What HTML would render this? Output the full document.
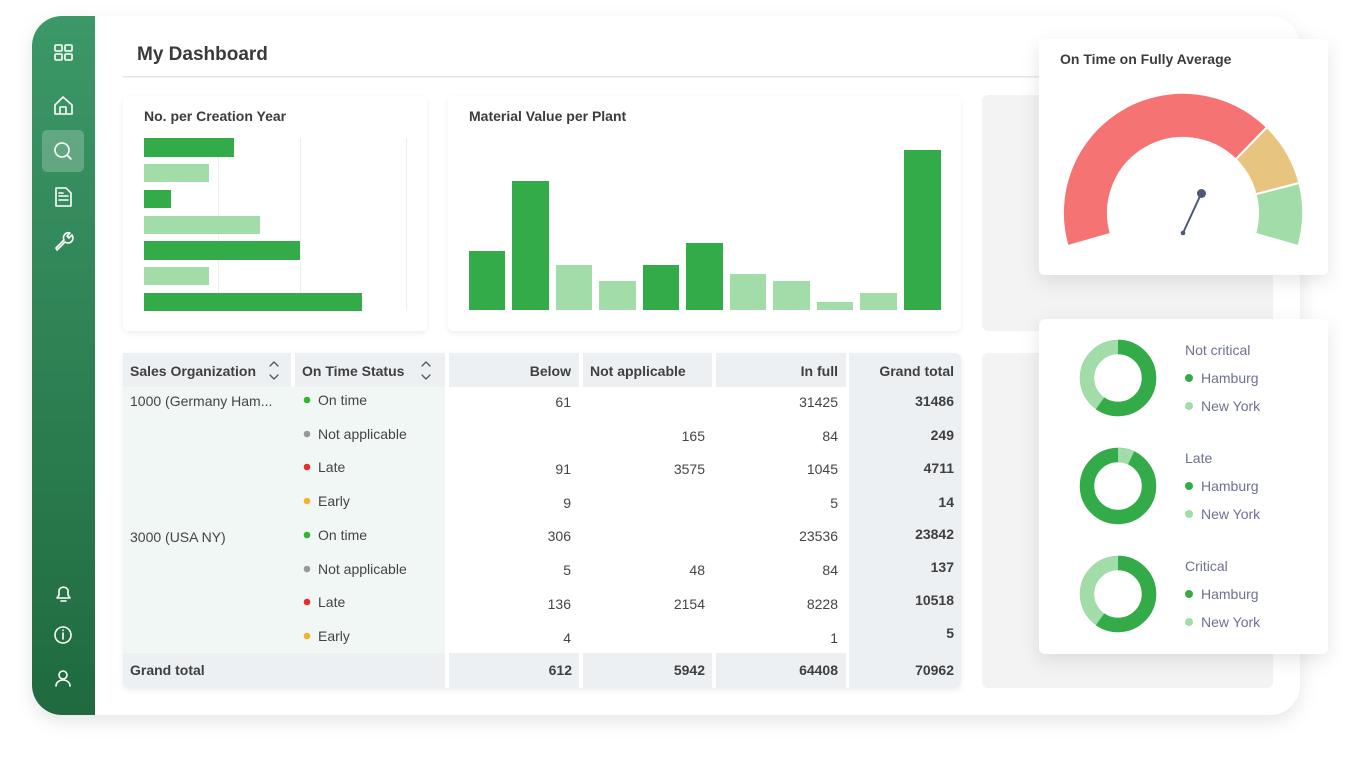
<!DOCTYPE html>
<html><head><meta charset="utf-8"><style>
html,body{margin:0;padding:0;background:#fff;width:1361px;height:764px;overflow:hidden}
svg{display:block}
text{font-family:"Liberation Sans",sans-serif}
</style></head><body>
<svg width="1361" height="764" viewBox="0 0 1361 764" xmlns="http://www.w3.org/2000/svg">
<defs>
<linearGradient id="sb" x1="0" y1="0" x2="0" y2="1"><stop offset="0" stop-color="#3c9868"/><stop offset="1" stop-color="#1f6a3f"/></linearGradient>
<filter id="sh" x="-20%" y="-20%" width="140%" height="150%"><feDropShadow dx="0" dy="6" stdDeviation="9" flood-color="#000" flood-opacity="0.10"/></filter>
<filter id="sh2" x="-10%" y="-10%" width="120%" height="130%"><feDropShadow dx="0" dy="2" stdDeviation="3" flood-color="#000" flood-opacity="0.07"/></filter>
</defs>
<rect width="1361" height="764" fill="#fff"/>
<!-- main panel -->
<rect x="32" y="16" width="1268" height="699" rx="30" fill="#fff" filter="url(#sh)"/>
<path d="M62 16 H95 V715 H62 A30 30 0 0 1 32 685 V46 A30 30 0 0 1 62 16 Z" fill="url(#sb)"/>
<rect x="42" y="130" width="42" height="42" rx="5" fill="#ffffff" opacity="0.22"/>
<g fill="none" stroke="#fff" stroke-width="1.6" stroke-linecap="round" stroke-linejoin="round">
<rect x="55" y="45" width="7" height="6" rx="1"/><rect x="65" y="45" width="7" height="6" rx="1"/><rect x="55" y="54" width="7" height="6" rx="1"/><rect x="65" y="54" width="7" height="6" rx="1"/>
<path d="M55 105 L63 97 L72 105 V114 H55 Z M60 114 V107 H66 V114"/>
<circle cx="62" cy="150" r="7"/><path d="M67 155 L71 159"/>
<path d="M56 188 H66 L71 193 V206 H56 Z M59 196 H68 M59 200 H68 M59 193 H63"/>
<path d="M56 248 L64 240 A5 5 0 0 1 70 233 L67 236 L69 238 L72 235 A5 5 0 0 1 65 242 L57 250 Z"/>
<path d="M57 598 H70 L68 595 V590 A5 5 0 0 0 59 590 V595 Z M61 601 H66"/>
<circle cx="63" cy="635" r="8"/><path d="M63 633 V639 M63 630 V630.5"/>
<circle cx="63" cy="675" r="4"/><path d="M56 686 A7 6 0 0 1 70 686"/>
</g>
<!-- header -->
<text x="137" y="60" font-size="19" font-weight="bold" fill="#3a3a3a">My Dashboard</text>
<rect x="123" y="76" width="930" height="1.5" fill="#e6e6e6"/>
<!-- bar card 1 -->
<rect x="123" y="96" width="304" height="235" rx="6" fill="#fff" filter="url(#sh2)"/>
<text x="144" y="121" font-size="14" font-weight="bold" fill="#3c3c3c">No. per Creation Year</text>
<g fill="#eee"><rect x="218" y="138" width="1" height="173"/><rect x="300" y="138" width="1" height="173"/><rect x="406" y="138" width="1" height="173"/></g>
<g>
<rect x="144" y="138" width="90" height="19" fill="#33ab48"/>
<rect x="144" y="164" width="65" height="18" fill="#a1dca9"/>
<rect x="144" y="190" width="27" height="18" fill="#33ab48"/>
<rect x="144" y="216" width="116" height="18" fill="#a1dca9"/>
<rect x="144" y="241" width="156" height="19" fill="#33ab48"/>
<rect x="144" y="267" width="65" height="18" fill="#a1dca9"/>
<rect x="144" y="293" width="218" height="18" fill="#33ab48"/>
</g>
<!-- bar card 2 -->
<rect x="448" y="96" width="513" height="235" rx="6" fill="#fff" filter="url(#sh2)"/>
<text x="469" y="121" font-size="14" font-weight="bold" fill="#3c3c3c">Material Value per Plant</text>
<g>
<rect x="469" y="251" width="36" height="59" fill="#33ab48"/>
<rect x="512" y="181" width="37" height="129" fill="#33ab48"/>
<rect x="556" y="265" width="36" height="45" fill="#a1dca9"/>
<rect x="599" y="281" width="37" height="29" fill="#a1dca9"/>
<rect x="643" y="265" width="36" height="45" fill="#33ab48"/>
<rect x="686" y="243" width="37" height="67" fill="#33ab48"/>
<rect x="730" y="274" width="36" height="36" fill="#a1dca9"/>
<rect x="773" y="281" width="37" height="29" fill="#a1dca9"/>
<rect x="817" y="302" width="36" height="8" fill="#a1dca9"/>
<rect x="860" y="293" width="37" height="17" fill="#a1dca9"/>
<rect x="904" y="150" width="37" height="160" fill="#33ab48"/>
</g>
<!-- placeholders -->
<rect x="982" y="95" width="291" height="236" rx="6" fill="#f3f3f3"/>
<rect x="982" y="353" width="291" height="335" rx="6" fill="#f3f3f3"/>
<!-- table -->
<rect x="123" y="353" width="838" height="335" rx="6" fill="#fff" filter="url(#sh2)"/>
<rect x="123" y="387" width="322" height="266" fill="#f1f7f4"/>
<rect x="123" y="353" width="168" height="34" fill="#edf0f3"/>
<rect x="295" y="353" width="150" height="34" fill="#edf0f3"/>
<rect x="449" y="353" width="130" height="34" fill="#edf0f3"/>
<rect x="583" y="353" width="129" height="34" fill="#edf0f3"/>
<rect x="716" y="353" width="130" height="34" fill="#edf0f3"/>
<path d="M849 353 H955 A6 6 0 0 1 961 359 V682 A6 6 0 0 1 955 688 H849 Z" fill="#edf0f3"/>
<path d="M123 653 H445 V688 H129 A6 6 0 0 1 123 682 Z" fill="#edf0f3"/>
<rect x="449" y="653" width="130" height="35" fill="#edf0f3"/>
<rect x="583" y="653" width="129" height="35" fill="#edf0f3"/>
<rect x="716" y="653" width="130" height="35" fill="#edf0f3"/>
<g font-size="14" font-weight="bold" fill="#3f3f3f">
<text x="130" y="376">Sales Organization</text>
<text x="302" y="376">On Time Status</text>
<text x="571" y="376" text-anchor="end">Below</text>
<text x="590" y="376">Not applicable</text>
<text x="838" y="376" text-anchor="end">In full</text>
<text x="954" y="376" text-anchor="end">Grand total</text>
<text x="130" y="675">Grand total</text>
<text x="572" y="675" text-anchor="end">612</text>
<text x="705" y="675" text-anchor="end">5942</text>
<text x="838" y="675" text-anchor="end">64408</text>
<text x="954" y="675" text-anchor="end">70962</text>
</g>
<g fill="none" stroke="#555" stroke-width="1.3" stroke-linecap="round" stroke-linejoin="round">
<path d="M270 366 L274 362 L278 366 M270 375 L274 379 L278 375"/>
<path d="M422 366 L426 362 L430 366 M422 375 L426 379 L430 375"/>
</g>
<g font-size="14" fill="#444">
<text x="130" y="406">1000 (Germany Ham...</text>
<text x="130" y="542">3000 (USA NY)</text>
<text x="318" y="405">On time</text><text x="318" y="439">Not applicable</text><text x="318" y="472">Late</text><text x="318" y="506">Early</text>
<text x="318" y="540">On time</text><text x="318" y="574">Not applicable</text><text x="318" y="607">Late</text><text x="318" y="641">Early</text>
</g>
<g>
<circle cx="307" cy="400" r="3.3" fill="#2fb52f"/><circle cx="307" cy="434" r="3.3" fill="#999"/><circle cx="307" cy="467" r="3.3" fill="#ee2a2a"/><circle cx="307" cy="501" r="3.3" fill="#f0b22f"/>
<circle cx="307" cy="535" r="3.3" fill="#2fb52f"/><circle cx="307" cy="569" r="3.3" fill="#999"/><circle cx="307" cy="602" r="3.3" fill="#ee2a2a"/><circle cx="307" cy="636" r="3.3" fill="#f0b22f"/>
</g>
<g font-size="14" fill="#444" text-anchor="end">
<text x="571" y="407">61</text><text x="571" y="474">91</text><text x="571" y="508">9</text><text x="571" y="541">306</text><text x="571" y="575">5</text><text x="571" y="609">136</text><text x="571" y="643">4</text>
<text x="705" y="441">165</text><text x="705" y="474">3575</text><text x="705" y="575">48</text><text x="705" y="609">2154</text>
<text x="838" y="407">31425</text><text x="838" y="441">84</text><text x="838" y="474">1045</text><text x="838" y="508">5</text><text x="838" y="541">23536</text><text x="838" y="575">84</text><text x="838" y="609">8228</text><text x="838" y="643">1</text>
</g>
<g font-size="14" font-weight="bold" fill="#3f3f3f" text-anchor="end">
<text x="954" y="406">31486</text><text x="954" y="440">249</text><text x="954" y="473">4711</text><text x="954" y="507">14</text><text x="954" y="539">23842</text><text x="954" y="572">137</text><text x="954" y="605">10518</text><text x="954" y="638">5</text>
</g>
<!-- gauge card -->
<rect x="1039" y="39" width="289" height="236" rx="6" fill="#fff" filter="url(#sh)"/>
<text x="1060" y="64" font-size="14" font-weight="bold" fill="#3c3c3c">On Time on Fully Average</text>
<g stroke="#fff" stroke-width="2" stroke-linejoin="round">
<path d="M1067.6 246.1 A120 120 0 0 1 1267.0 127.2 L1235.6 159.5 A75 75 0 0 0 1110.9 233.7 Z" fill="#f67373"/>
<path d="M1267.0 127.2 A120 120 0 0 1 1299.4 183.0 L1255.6 194.3 A75 75 0 0 0 1235.6 159.5 Z" fill="#e7c57f"/>
<path d="M1299.4 183.0 A120 120 0 0 1 1298.4 246.1 L1255.1 233.7 A75 75 0 0 0 1255.6 194.3 Z" fill="#a1dca9"/>
</g>
<path d="M1183 233 L1201 194" stroke="#4d5a75" stroke-width="2"/>
<circle cx="1201.5" cy="193.5" r="4.5" fill="#4d5a75"/>
<circle cx="1183" cy="233" r="2.3" fill="#4d5a75"/>
<!-- donut card -->
<rect x="1039" y="319" width="289" height="335" rx="6" fill="#fff" filter="url(#sh)"/>
<g fill="none" stroke-width="14.5">
<g transform="rotate(-90 1118 378)"><circle cx="1118" cy="378" r="31" stroke="#a1dca9"/><circle cx="1118" cy="378" r="31" stroke="#33ab48" stroke-dasharray="116.3 200"/></g>
<g transform="rotate(-90 1118 486)"><circle cx="1118" cy="486" r="31" stroke="#33ab48"/><circle cx="1118" cy="486" r="31" stroke="#a1dca9" stroke-dasharray="13.5 200"/></g>
<g transform="rotate(-90 1118 594)"><circle cx="1118" cy="594" r="31" stroke="#a1dca9"/><circle cx="1118" cy="594" r="31" stroke="#33ab48" stroke-dasharray="116.3 200"/></g>
</g>
<g font-size="14" fill="#6e7191">
<text x="1185" y="355">Not critical</text><text x="1201" y="383">Hamburg</text><text x="1201" y="411">New York</text>
<text x="1185" y="463">Late</text><text x="1201" y="491">Hamburg</text><text x="1201" y="519">New York</text>
<text x="1185" y="571">Critical</text><text x="1201" y="599">Hamburg</text><text x="1201" y="627">New York</text>
</g>
<g>
<circle cx="1189" cy="378" r="4" fill="#33ab48"/><circle cx="1189" cy="406" r="4" fill="#a1dca9"/>
<circle cx="1189" cy="486" r="4" fill="#33ab48"/><circle cx="1189" cy="514" r="4" fill="#a1dca9"/>
<circle cx="1189" cy="594" r="4" fill="#33ab48"/><circle cx="1189" cy="622" r="4" fill="#a1dca9"/>
</g>
</svg>
</body></html>
